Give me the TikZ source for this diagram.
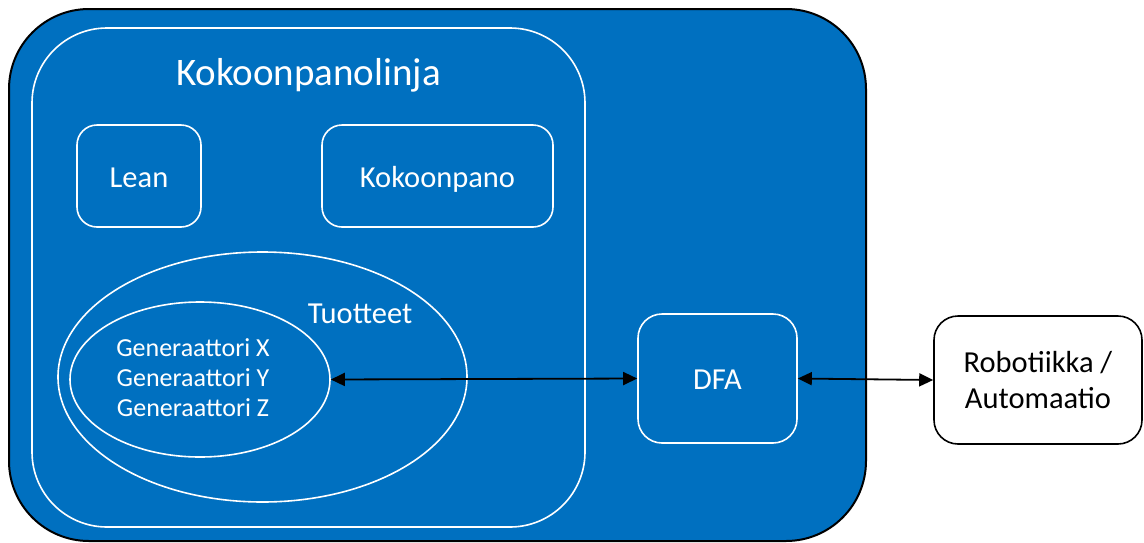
\documentclass[tikz,border=0pt]{standalone}
\usepackage{fontspec}
\setmainfont{Carlito}
\usetikzlibrary{shapes.geometric,arrows.meta}
\definecolor{pblue}{HTML}{0070C0}
\begin{document}
\begin{tikzpicture}[x=1pt,y=-1pt,
  wline/.style={draw=white,line width=1.6pt},
  wbox/.style={wline,rectangle,rounded corners=20pt,inner sep=0pt,text=white,font=\fontsize{30.5}{36}\selectfont,text height=24pt,text depth=2pt},
  oval/.style={wline,ellipse,inner sep=0pt},
  lbl/.style={text=white,inner sep=0pt,align=center},
  arr/.style={draw=black,line width=1.8pt,{Triangle[length=14pt,width=13pt]}-{Triangle[length=14pt,width=13pt]}}
]
\useasboundingbox (0,0) rectangle (1144,542);
\node[draw=black,line width=2pt,fill=pblue,rounded corners=80pt,minimum width=857pt,minimum height=532pt,inner sep=0pt] (outer) at (437.5,275) {};
\node[wline,rectangle,rounded corners=75pt,minimum width=553pt,minimum height=499pt,inner sep=0pt] (linja) at (308.5,277.5) {};
\node[lbl,font=\fontsize{39}{46}\selectfont,anchor=base] (title) at (308.5,85) {Kokoonpanolinja};
\node[wbox,minimum width=124pt,minimum height=102pt] (lean) at (139,176) {Lean};
\node[wbox,minimum width=231pt,minimum height=102pt] (kokoon) at (437.5,176) {Kokoonpano};
\node[oval,minimum width=409pt,minimum height=250pt] (tuotteet) at (262.5,377) {};
\node[lbl,font=\fontsize{30.5}{36}\selectfont,anchor=base] (tuotlbl) at (360,323) {Tuotteet};
\node[oval,minimum width=260pt,minimum height=155pt] (gen) at (200,379.5) {};
\node[lbl,font=\fontsize{26}{30}\selectfont] (genlbl) at (193,378) {Generaattori X\\Generaattori Y\\Generaattori Z};
\node[wbox,rounded corners=24pt,minimum width=159pt,minimum height=129pt] (dfa) at (717.5,378.5) {DFA};
\node[draw=black,line width=1.6pt,fill=white,rounded corners=24pt,minimum width=208pt,minimum height=128pt,inner sep=0pt,align=center,font=\fontsize{30.5}{35.5}\selectfont] (robo) at (1038,380) {Robotiikka /\\Automaatio};
\draw[arr] (gen.east) -- (dfa.west);
\draw[arr] (dfa.east) -- (robo.west);
\end{tikzpicture}
\end{document}
